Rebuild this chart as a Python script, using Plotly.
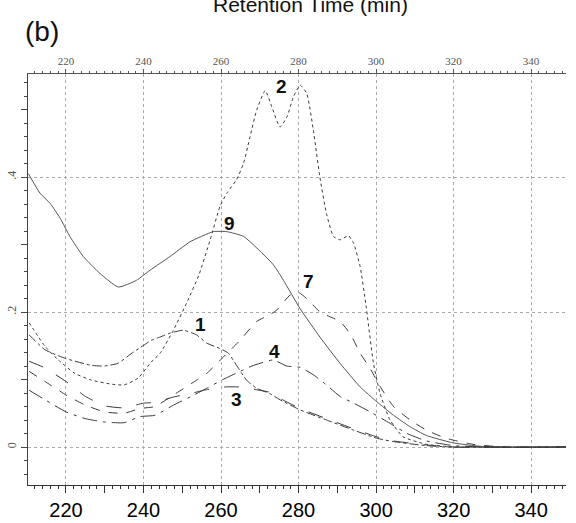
import plotly.graph_objects as go

# ---- data ----
x9 = [210.3, 213.3, 215.9, 218.5, 221, 224.5, 228.8, 233.5, 238.2, 241.7, 246.8, 252, 258, 261.5, 265.8,
      270.1, 273.5, 276.1, 280.4, 285.5, 290.7, 295.9, 300.2, 304.5, 308.8, 313, 320, 327, 335, 349]
y9 = [0.405, 0.376, 0.361, 0.339, 0.312, 0.282, 0.257, 0.237, 0.247, 0.262, 0.282, 0.304, 0.319, 0.319, 0.312,
      0.29, 0.27, 0.247, 0.205, 0.163, 0.124, 0.089, 0.067, 0.047, 0.03, 0.017, 0.006, 0.001, 0.0, 0.0]

x2 = [210.5, 214.6, 218, 222.3, 226.6, 231.8, 235, 238.6, 242, 244.3, 247.7, 251.1, 254.3, 257.2, 259.7,
      261.5, 264, 265.8, 267.5, 269.2, 271.4, 273.1, 275.2, 277, 278.7, 280.4, 282.1, 283.8, 285.5, 287.2,
      289, 290.7, 292.9, 294.2, 295.9, 297.4, 299.3, 301, 303.6, 307, 313, 320, 349]
y2 = [0.184, 0.149, 0.129, 0.109, 0.099, 0.093, 0.092, 0.102, 0.126, 0.139, 0.173, 0.213, 0.255, 0.307, 0.356,
      0.376, 0.396, 0.42, 0.46, 0.499, 0.528, 0.504, 0.474, 0.489, 0.519, 0.536, 0.524, 0.47, 0.40, 0.346,
      0.312, 0.307, 0.313, 0.302, 0.267, 0.21, 0.125, 0.08, 0.04, 0.015, 0.004, 0.0, 0.0]

x1 = [210.5, 214.6, 220, 226.6, 230, 233.4, 237, 239.1, 242, 244.3, 247, 250.3, 253.7, 256.3, 259.7,
      261.9, 264, 266.6, 269.2, 272.6, 275.2, 280.4, 287.2, 294.2, 300.2, 304.5, 313, 320, 349]
y1 = [0.166, 0.144, 0.131, 0.121, 0.12, 0.124, 0.139, 0.147, 0.158, 0.163, 0.169, 0.173, 0.166, 0.154, 0.146,
      0.139, 0.121, 0.099, 0.087, 0.079, 0.07, 0.055, 0.04, 0.025, 0.013, 0.008, 0.002, 0.0, 0.0]

x3 = [210.5, 214.6, 220, 225, 230, 235, 240, 243, 247.7, 252, 256.3, 261.2, 264.4, 266.6, 269, 272.6,
      275.2, 280.4, 287.2, 294.2, 300.2, 304.5, 313, 320, 349]
y3 = [0.127, 0.117, 0.097, 0.075, 0.061, 0.058, 0.065, 0.066, 0.074, 0.079, 0.085, 0.089, 0.089, 0.088, 0.085,
      0.081, 0.072, 0.057, 0.042, 0.027, 0.015, 0.009, 0.003, 0.0, 0.0]

x7 = [210.5, 214.6, 220, 225, 230, 235, 239.1, 243, 247.7, 253.7, 256.5, 260.2, 264.9, 269.2, 272.6, 274.4,
      277.8, 280, 283, 285.5, 288.1, 290.7, 293.3, 295.9, 298.6, 301, 304.5, 308.8, 313, 318, 325, 333, 349]
y7 = [0.112, 0.097, 0.077, 0.062, 0.052, 0.05, 0.057, 0.06, 0.077, 0.099, 0.11, 0.131, 0.158, 0.186, 0.196, 0.203,
      0.225, 0.229, 0.215, 0.2, 0.193, 0.186, 0.168, 0.139, 0.115, 0.09, 0.06, 0.04, 0.025, 0.013, 0.004, 0.0, 0.0]

x4 = [210.5, 214.6, 220, 225, 230, 235, 239.1, 243, 247.7, 252, 256.3, 260.5, 264.9, 268, 270.1, 273.5,
      276.9, 280.4, 283.8, 287.2, 290.7, 294.2, 298.5, 303.6, 308, 313, 320, 330, 349]
y4 = [0.084, 0.07, 0.052, 0.042, 0.037, 0.036, 0.045, 0.047, 0.062, 0.074, 0.087, 0.1, 0.112, 0.12, 0.124, 0.129,
      0.12, 0.118, 0.107, 0.092, 0.075, 0.065, 0.052, 0.035, 0.02, 0.009, 0.002, 0.0, 0.0]

labels = ["2", "9", "1", "7", "4", "3"]
label_x = [275.7, 262.3, 254.6, 282.5, 273.7, 264.0]
label_y = [0.534, 0.331, 0.181, 0.245, 0.142, 0.070]

x_range = [210.2, 349]
y_range = [-0.0563, 0.5526]
bottom_ticks = list(range(210, 351, 10))
bottom_text = [str(v) if v % 20 == 0 else "" for v in bottom_ticks]
y_ticks = [0, 0.1, 0.2, 0.3, 0.4, 0.5]
y_text = ["0", "", ".2", "", ".4", ""]

line_col = "#3a3a3a"
fig = go.Figure()
series = [
    (x9, y9, "solid", "#555555"),
    (x2, y2, "dot", line_col),
    (x1, y1, "dashdot", line_col),
    (x7, y7, "dash", line_col),
    (x4, y4, "longdashdot", line_col),
    (x3, y3, "longdash", line_col),
]
for xs, ys, dash, col in series:
    fig.add_trace(go.Scatter(x=xs, y=ys, mode="lines", showlegend=False, hoverinfo="skip",
                             line=dict(color=col, width=1, dash=dash, shape="spline", smoothing=0.5)))
# empty trace to activate the grid / top axes
fig.add_trace(go.Scatter(x=[], y=[], xaxis="x2", yaxis="y2", showlegend=False))

for t, lx, ly in zip(labels, label_x, label_y):
    fig.add_annotation(x=lx, y=ly, text="<b>" + t + "</b>", showarrow=False,
                       font=dict(family="Liberation Sans, Arial", size=19, color="#111"))

fig.add_annotation(xref="paper", yref="paper", x=0.026, y=1.1046, text="(b)", showarrow=False,
                   xanchor="center", yanchor="middle",
                   font=dict(family="Liberation Sans, Arial", size=28, color="#111"))
fig.add_annotation(xref="paper", yref="paper", x=0.526, y=1.168, text="Retention Time (min)", showarrow=False,
                   xanchor="center", yanchor="middle",
                   font=dict(family="Liberation Sans, Arial", size=21, color="#111"))

fig.update_layout(
    width=576, height=523,
    margin=dict(l=28, r=10, t=74, b=38, autoexpand=False),
    paper_bgcolor="white", plot_bgcolor="white",
    xaxis=dict(range=x_range, tickmode="array", tickvals=bottom_ticks, ticktext=bottom_text,
               automargin=False,
               ticks="outside", ticklen=7, tickcolor="#333", showline=True, linecolor="#333",
               showgrid=False, zeroline=False,
               minor=dict(dtick=2, ticks="outside", ticklen=3, tickcolor="#333", showgrid=False),
               tickfont=dict(family="Liberation Sans, Arial", size=20, color="#000")),
    xaxis2=dict(range=x_range, overlaying="x", side="top", tickmode="linear", tick0=220, dtick=20,
                automargin=False,
                ticks="outside", ticklen=4, tickcolor="#555", showline=True, linecolor="#555",
                showgrid=True, gridcolor="#aaaaaa", griddash="dot", gridwidth=1, zeroline=False,
                minor=dict(dtick=2, ticks="outside", ticklen=2, tickcolor="#555", showgrid=False),
                tickfont=dict(family="Liberation Serif, serif", size=11, color="#555")),
    yaxis=dict(range=y_range, tickmode="array", tickvals=y_ticks, ticktext=y_text, tickangle=-90,
               automargin=False,
               ticks="outside", ticklen=6, tickcolor="#444", showline=True, linecolor="#444",
               showgrid=False, zeroline=False,
               minor=dict(dtick=0.02, ticks="outside", ticklen=3, tickcolor="#444", showgrid=False),
               tickfont=dict(family="Liberation Serif, serif", size=12, color="#555")),
    yaxis2=dict(range=y_range, overlaying="y", side="left", tickmode="linear", tick0=0, dtick=0.2,
                automargin=False,
                showticklabels=False, ticks="", showline=False, showgrid=True,
                gridcolor="#aaaaaa", griddash="dot", gridwidth=1, zeroline=False),
)

fig.write_html("out.html", config={"displayModeBar": False},
               post_script="document.body.style.margin='0';document.body.style.padding='0';"
                           "document.body.style.overflow='hidden';")
